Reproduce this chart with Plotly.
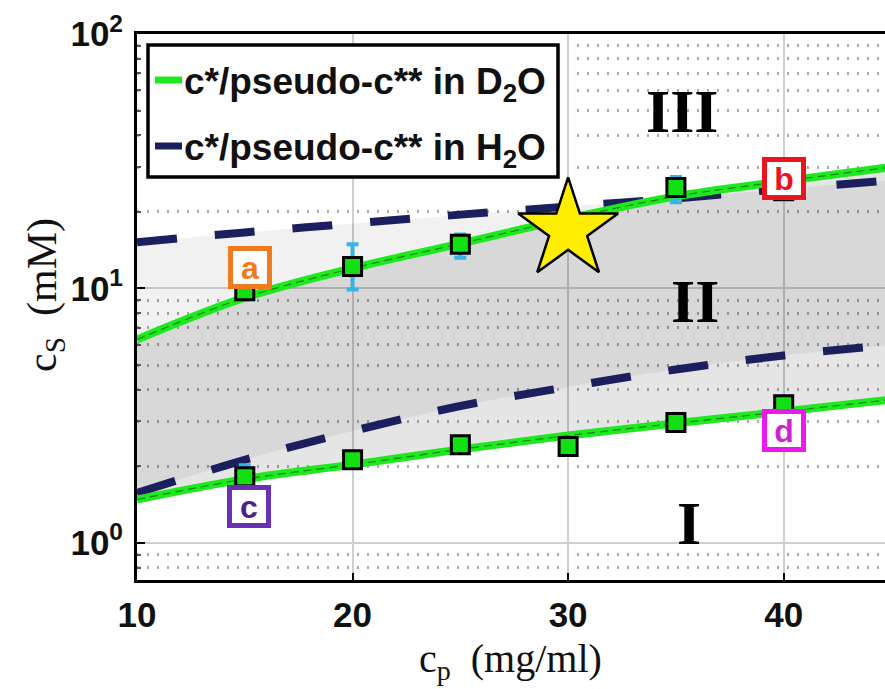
import math
import plotly.graph_objects as go

# Phase-boundary curves: salt concentration c_s (mM) against polymer concentration c_p (mg/ml)
cp_curve = [10, 15, 20, 25, 30, 35, 40, 45]
cs_d2o_upper = [6.3, 9.2, 12.0, 15.0, 18.8, 23.0, 26.4, 30.0]
cs_d2o_lower = [1.48, 1.78, 2.03, 2.33, 2.64, 2.95, 3.28, 3.66]
cs_h2o_upper = [15.2, 16.6, 18.0, 19.5, 21.0, 22.6, 24.6, 26.6]
cs_h2o_lower = [1.57, 2.12, 2.75, 3.45, 4.10, 4.80, 5.45, 6.00]

# Measured boundary points in D2O (upper and lower boundary)
cp_upper_pts = [15, 20, 25, 35, 40]
cs_upper_pts = [9.8, 12.2, 14.9, 24.9, 24.2]
err_upper_plus = [0.8, 2.7, 1.4, 2.5, 0.8]
err_upper_minus = [0.6, 2.3, 1.7, 3.1, 0.8]

cp_lower_pts = [15, 20, 25, 30, 35, 40]
cs_lower_pts = [1.82, 2.12, 2.43, 2.39, 2.97, 3.49]
err_lower_plus = [0.2, 0.0, 0.0, 0.0, 0.0, 0.0]
err_lower_minus = [0.07, 0.0, 0.0, 0.0, 0.0, 0.0]

# Highlighted sample
star_cp = [30]
star_cs = [17.0]

# Labelled samples a-d
sample_labels = ["a", "b", "c", "d"]
sample_cp = [15.25, 40.0, 15.2, 40.0]
sample_cs = [12.1, 27.1, 1.39, 2.76]
sample_colors = ["#f07a1e", "#e8141e", "#6a30b4", "#ee18ee"]
sample_text_colors = ["#f07a1e", "#e8141e", "#4a2090", "#d020d0"]

# Regime labels
regime_labels = ["III", "II", "I"]
regime_cp = [35.3, 35.9, 35.6]
regime_cs = [50.0, 8.9, 1.2]

# Axis tick labels
x_ticks = [10, 20, 30, 40]
y_ticks = [1, 10, 100]
y_ticktext = ["10<sup>0</sup>", "10<sup>1</sup>", "10<sup>2</sup>"]
y_minor = [0.8, 0.9] + [v for v in range(2, 10)] + [10 * v for v in range(2, 10)]

GREEN = "#1ee81e"
NAVY = "#1c1f5e"
W, H = 885, 689
ML, MR, MT, MB = 137, 0, 34, 109
PW, PH = W - ML - MR, H - MT - MB


def px_x(px):
    return (px - ML) / PW


def px_y(py):
    return (H - MB - py) / PH


fig = go.Figure()

# Shaded two-phase regions
fig.add_trace(go.Scatter(x=cp_curve, y=cs_h2o_lower, mode="lines", line=dict(width=0, shape="spline"),
                         hoverinfo="skip", showlegend=False))
fig.add_trace(go.Scatter(x=cp_curve, y=cs_h2o_upper, mode="lines", line=dict(width=0, shape="spline"),
                         fill="tonexty", fillcolor="rgba(0,0,0,0.055)", hoverinfo="skip", showlegend=False))
fig.add_trace(go.Scatter(x=cp_curve, y=cs_d2o_lower, mode="lines", line=dict(width=0, shape="spline"),
                         hoverinfo="skip", showlegend=False))
fig.add_trace(go.Scatter(x=cp_curve, y=cs_d2o_upper, mode="lines", line=dict(width=0, shape="spline"),
                         fill="tonexty", fillcolor="rgba(0,0,0,0.10)", hoverinfo="skip", showlegend=False))

# H2O boundaries (dashed)
for ys in (cs_h2o_upper, cs_h2o_lower):
    fig.add_trace(go.Scatter(x=cp_curve, y=ys, mode="lines",
                             line=dict(color=NAVY, width=8, dash="40px,38px", shape="spline"),
                             showlegend=False))

# D2O boundaries (solid green with a thin dark centre dash)
for ys in (cs_d2o_upper, cs_d2o_lower):
    fig.add_trace(go.Scatter(x=cp_curve, y=ys, mode="lines",
                             line=dict(color=GREEN, width=8, shape="spline"), showlegend=False))
    fig.add_trace(go.Scatter(x=cp_curve, y=ys, mode="lines",
                             line=dict(color="rgba(20,110,20,0.8)", width=1.2, dash="8px,5px", shape="spline"),
                             showlegend=False))

# Measured points with error bars
marker_style = dict(symbol="square", size=18, color="#12e012", line=dict(color="black", width=3))
err_style = dict(type="data", symmetric=False, color="#35b5e5", thickness=4, width=6)
fig.add_trace(go.Scatter(x=cp_upper_pts, y=cs_upper_pts, mode="markers", marker=marker_style,
                         error_y=dict(array=err_upper_plus, arrayminus=err_upper_minus, **err_style),
                         showlegend=False))
fig.add_trace(go.Scatter(x=cp_lower_pts, y=cs_lower_pts, mode="markers", marker=marker_style,
                         error_y=dict(array=err_lower_plus, arrayminus=err_lower_minus, **err_style),
                         showlegend=False))

# Highlighted sample
fig.add_trace(go.Scatter(x=star_cp, y=star_cs, mode="markers",
                         marker=dict(symbol="star", size=75, color="#ffee00", line=dict(color="black", width=2.5)),
                         showlegend=False))

annotations = []
for lab, x, y, bc, tc in zip(sample_labels, sample_cp, sample_cs, sample_colors, sample_text_colors):
    annotations.append(dict(x=x, y=math.log10(y), xref="x", yref="y", text=lab, showarrow=False,
                            xanchor="center", yanchor="middle",
                            font=dict(family="Liberation Sans", size=32, color=tc, weight="bold"),
                            bgcolor="white", bordercolor=bc, borderwidth=5, borderpad=1,
                            width=32, height=31))

for lab, x, y in zip(regime_labels, regime_cp, regime_cs):
    annotations.append(dict(x=x, y=math.log10(y), xref="x", yref="y", text=lab, showarrow=False,
                            xanchor="center", yanchor="middle",
                            font=dict(family="Liberation Serif", size=62, color="black", weight="bold")))

# Legend drawn as a framed box with line samples
legend_rows = [("c*/pseudo-c** in D<sub>2</sub>O", GREEN, 80), ("c*/pseudo-c** in H<sub>2</sub>O", NAVY, 146)]
shapes = [dict(type="rect", xref="paper", yref="paper", x0=px_x(148), x1=px_x(558), y0=px_y(177), y1=px_y(45),
               line=dict(color="black", width=3.5), fillcolor="white", layer="above")]
for text, col, py in legend_rows:
    shapes.append(dict(type="line", xref="paper", yref="paper", x0=px_x(155), x1=px_x(182), y0=px_y(py), y1=px_y(py),
                       line=dict(color=col, width=7), layer="above"))
    annotations.append(dict(x=px_x(182), y=px_y(py + 4), xref="paper", yref="paper", text=text, showarrow=False,
                            xanchor="left", yanchor="middle",
                            font=dict(family="Liberation Sans", size=37, color="#111111", weight="bold")))

# Axis titles
annotations.append(dict(x=px_x(510), y=px_y(661), xref="paper", yref="paper", showarrow=False,
                        xanchor="center", yanchor="middle",
                        text="c<sub>p</sub>  (mg/ml)",
                        font=dict(family="Liberation Serif", size=40, color="#111111")))
annotations.append(dict(x=px_x(45), y=px_y(295), xref="paper", yref="paper", showarrow=False, textangle=-90,
                        xanchor="center", yanchor="middle",
                        text="c<sub>S</sub>  (mM)",
                        font=dict(family="Liberation Serif", size=42, color="#111111")))

tick_font = dict(family="Liberation Sans", size=35, color="#111111", weight="bold")

fig.update_layout(
    width=W, height=H,
    margin=dict(l=ML, r=MR, t=MT, b=MB, pad=0),
    paper_bgcolor="white", plot_bgcolor="white",
    showlegend=False,
    shapes=shapes,
    annotations=annotations,
    xaxis=dict(range=[10, 44.7], tickvals=x_ticks, ticktext=[str(v) for v in x_ticks], tickfont=tick_font,
               showgrid=True, gridcolor="#cfcfcf", gridwidth=2, zeroline=False,
               showline=True, linecolor="black", linewidth=3, mirror=True,
               ticks="inside", ticklen=7, tickwidth=2, tickcolor="black", ticklabelstandoff=2),
    yaxis=dict(type="log", range=[-0.146, 2], tickvals=y_ticks, ticktext=y_ticktext, tickfont=tick_font,
               showgrid=True, gridcolor="#cfcfcf", gridwidth=2, zeroline=False,
               showline=True, linecolor="black", linewidth=3, mirror=False,
               ticks="inside", ticklen=8, tickwidth=2, tickcolor="black", ticklabelstandoff=4,
               minor=dict(tickvals=y_minor, showgrid=True, gridcolor="#aaaaaa", gridwidth=2.5,
                          griddash="2px,8px", ticks="inside", ticklen=4, tickcolor="#555555")),
)

fig.write_html("out.html")
